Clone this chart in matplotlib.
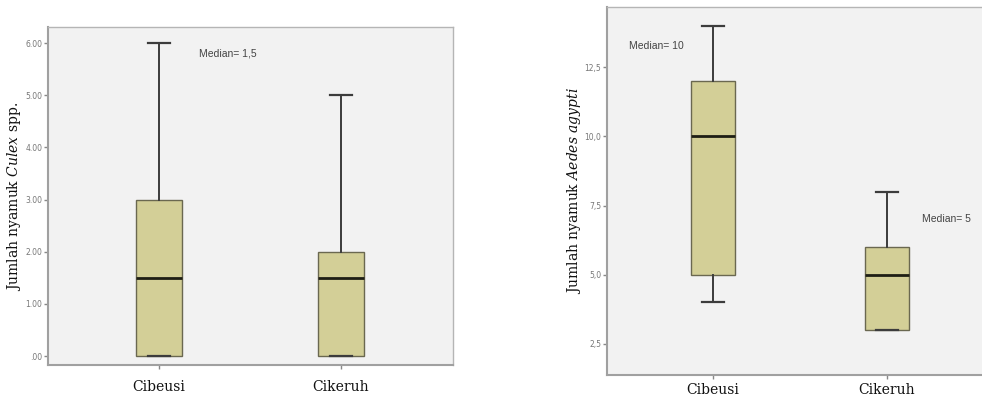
import matplotlib
matplotlib.use("Agg")
import matplotlib.pyplot as plt

# ---- data ----
categories = ["Cibeusi", "Cikeruh"]

culex_min = [0, 0]
culex_q1 = [0, 0]
culex_med = [1.5, 1.5]
culex_q3 = [3, 2]
culex_max = [6, 5]
culex_ticks = [0, 1, 2, 3, 4, 5, 6]
culex_ticklabels = [".00", "1.00", "2.00", "3.00", "4.00", "5.00", "6.00"]
culex_note = "Median= 1,5"

aedes_min = [4, 3]
aedes_q1 = [5, 3]
aedes_med = [10, 5]
aedes_q3 = [12, 6]
aedes_max = [14, 8]
aedes_ticks = [2.5, 5.0, 7.5, 10.0, 12.5]
aedes_ticklabels = ["2,5", "5,0", "7,5", "10,0", "12,5"]
aedes_notes = ["Median= 10", "Median= 5"]

plt.rcParams["mathtext.fontset"] = "dejavuserif"

BOX_FILL = "#D3CF97"
BOX_EDGE = "#6A6850"
BG = "#F2F2F2"
SPINE = "#A0A0A0"
TICKC = "#888888"
NOTE_FONT = ["Liberation Sans Narrow", "Liberation Sans", "DejaVu Sans"]

fig = plt.figure(figsize=(9.82, 3.99), dpi=100)
ax1 = fig.add_axes([48 / 982, 34 / 399, 405 / 982, 338 / 399])
ax2 = fig.add_axes([607 / 982, 24 / 399, 380 / 982, 368 / 399])


def stats(mn, q1, med, q3, mx):
    return [dict(whislo=a, q1=b, med=c, q3=d, whishi=e, fliers=[])
            for a, b, c, d, e in zip(mn, q1, med, q3, mx)]


def draw(ax, st, width, xpad):
    ax.set_facecolor(BG)
    ax.bxp(st, positions=[1, 2], widths=width, patch_artist=True,
           showfliers=False,
           boxprops=dict(facecolor=BOX_FILL, edgecolor=BOX_EDGE, linewidth=1.0),
           medianprops=dict(color="#1E1E14", linewidth=2.0),
           whiskerprops=dict(color="#3C3C3C", linewidth=1.4),
           capprops=dict(color="#3C3C3C", linewidth=1.6))
    ax.set_xticks([1, 2])
    ax.set_xticklabels(categories, fontsize=10, family="DejaVu Serif", color="#111111")
    ax.tick_params(axis="x", length=3, width=1, color=TICKC, pad=xpad)
    ax.tick_params(axis="y", length=3, width=1, color=TICKC, labelsize=5.5,
                   labelcolor="#777777", pad=1)
    for s in ["top", "right"]:
        ax.spines[s].set_color("#B5B5B5")
        ax.spines[s].set_linewidth(1.0)
    for s in ["left", "bottom"]:
        ax.spines[s].set_color(SPINE)
        ax.spines[s].set_linewidth(1.5)


draw(ax1, stats(culex_min, culex_q1, culex_med, culex_q3, culex_max), 0.25, 8)
ax1.set_xlim(0.39, 2.615)
ax1.set_ylim(-0.17, 6.31)
ax1.set_yticks(culex_ticks)
ax1.set_yticklabels(culex_ticklabels)
ax1.set_ylabel(r"Jumlah nyamuk $\mathit{Culex}$ spp.", fontsize=10,
               family="DejaVu Serif", color="#111111", labelpad=2)
ax1.text(1.22, 5.8, culex_note, fontsize=7.5, family=NOTE_FONT, color="#444444",
         ha="left", va="center")

draw(ax2, stats(aedes_min, aedes_q1, aedes_med, aedes_q3, aedes_max), 0.253, 3)
ax2.set_xlim(0.391, 2.575)
ax2.set_ylim(1.38, 14.67)
ax2.set_yticks(aedes_ticks)
ax2.set_yticklabels(aedes_ticklabels)
ax2.set_ylabel(r"Jumlah nyamuk $\mathit{Aedes\ agypti}$", fontsize=10,
               family="DejaVu Serif", color="#111111", labelpad=1)
ax2.text(0.517, 13.25, aedes_notes[0], fontsize=7.5, family=NOTE_FONT, color="#444444",
         ha="left", va="center")
ax2.text(2.2, 7.0, aedes_notes[1], fontsize=7.5, family=NOTE_FONT, color="#444444",
         ha="left", va="center")

fig.savefig("out.png", dpi=100, facecolor="white")
